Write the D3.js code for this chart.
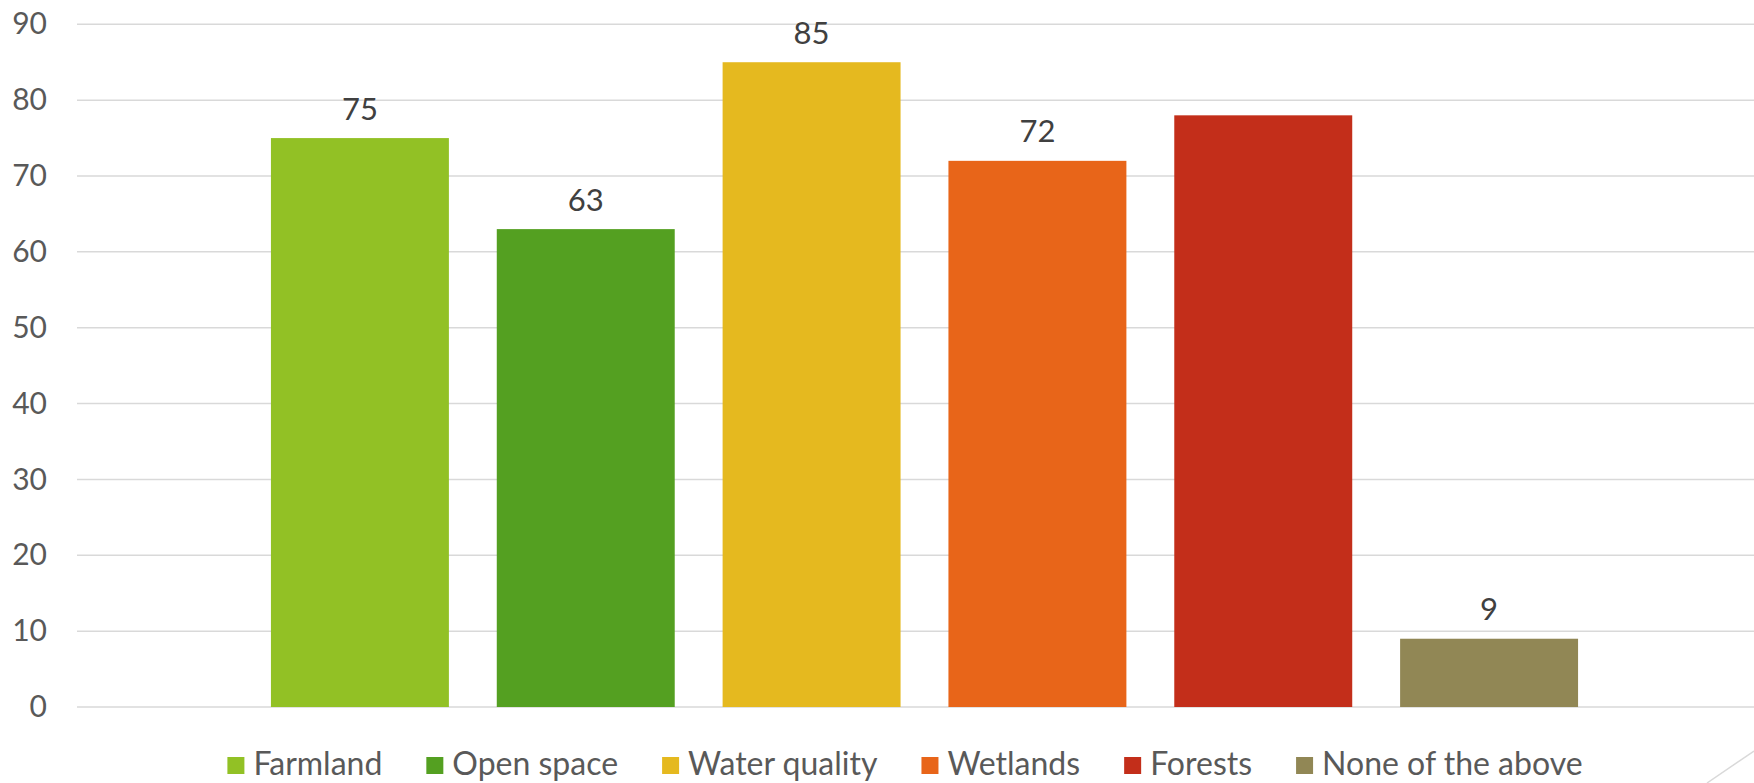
<!DOCTYPE html>
<html>
<head>
<meta charset="utf-8">
<script src="https://cdn.jsdelivr.net/npm/d3@7"></script>
<style>
  html, body { margin: 0; padding: 0; background: #fff; }
  svg { display: block; }
  text { font-family: Lato, "Open Sans", sans-serif; }
</style>
</head>
<body>
<svg id="chart" width="1754" height="783"></svg>
<script>
const categories = ["Farmland", "Open space", "Water quality", "Wetlands", "Forests", "None of the above"];
const values = [75, 63, 85, 72, 78, 9];
const dataLabels = ["75", "63", "85", "72", null, "9"];
const colors = ["#92C125", "#54A021", "#E5B91F", "#E86519", "#C32E1A", "#918755"];
const yTicks = [0, 10, 20, 30, 40, 50, 60, 70, 80, 90];

const svg = d3.select("#chart");
const W = 1754, H = 783;
const gridLeft = 77, gridRight = 1754;

const y = d3.scaleLinear().domain([0, 90]).range([707, 24.3]);
const x = d3.scaleBand().domain(categories).range([247, 1602]).paddingInner(0.212).paddingOuter(0.106);

// gridlines
svg.append("g").selectAll("line").data(yTicks).join("line")
  .attr("x1", gridLeft).attr("x2", gridRight)
  .attr("y1", d => y(d)).attr("y2", d => y(d))
  .attr("stroke", "#d9d9d9").attr("stroke-width", 1.5);

// y axis labels
const yAxis = d3.axisLeft(y).tickValues(yTicks).tickSize(0).tickPadding(0);
const gy = svg.append("g").attr("transform", "translate(47,0)").call(yAxis);
gy.select(".domain").remove();
gy.selectAll("text")
  .attr("font-family", "Lato, 'Open Sans', sans-serif")
  .attr("font-size", 30).attr("fill", "#595959");

// bars
svg.append("g").selectAll("rect").data(categories).join("rect")
  .attr("x", d => x(d)).attr("width", x.bandwidth())
  .attr("y", (d, i) => y(values[i]))
  .attr("height", (d, i) => y(0) - y(values[i]))
  .attr("fill", (d, i) => colors[i]);

// data labels
svg.append("g").selectAll("text").data(categories).join("text")
  .attr("x", d => x(d) + x.bandwidth() / 2)
  .attr("y", (d, i) => y(values[i]) - 18.5)
  .attr("text-anchor", "middle")
  .attr("font-size", 31).attr("fill", "#404040")
  .text((d, i) => dataLabels[i] || "");

// legend
const legend = svg.append("g");
const items = legend.selectAll("g").data(categories).join("g");
items.append("rect").attr("width", 17).attr("height", 17).attr("y", 757)
  .attr("fill", (d, i) => colors[i]);
items.append("text").attr("x", 26).attr("y", 775)
  .attr("font-size", 32).attr("fill", "#595959").text(d => d);
let widths = [];
items.each(function() { widths.push(26 + d3.select(this).select("text").node().getComputedTextLength()); });
const gap = 44;
const total = d3.sum(widths) + gap * (widths.length - 1);
let cx = 905 - total / 2;
items.each(function(d, i) {
  d3.select(this).attr("transform", `translate(${cx},0)`);
  cx += widths[i] + gap;
});

// decorative corner line
svg.append("line").attr("x1", 1707).attr("y1", 783).attr("x2", 1754).attr("y2", 751)
  .attr("stroke", "#d9d9d9").attr("stroke-width", 1.5);
</script>
</body>
</html>
